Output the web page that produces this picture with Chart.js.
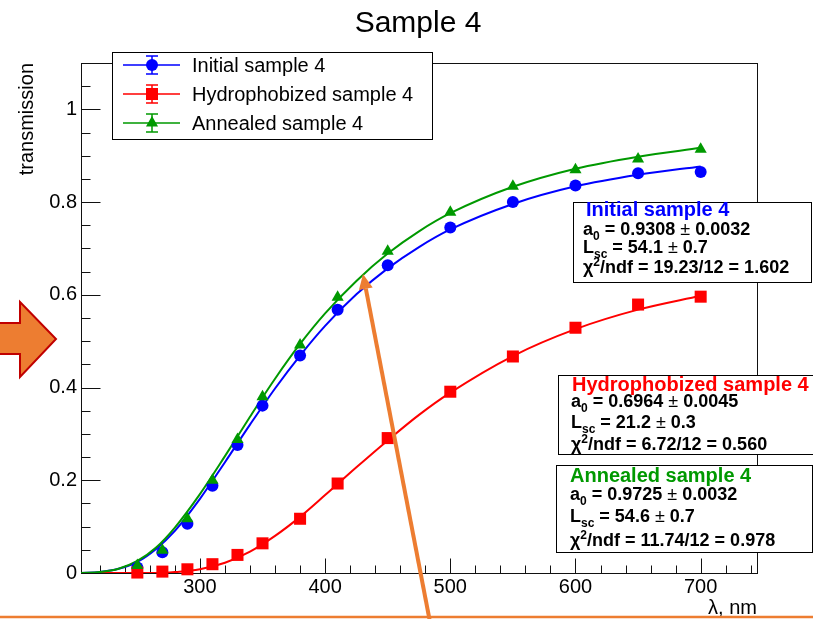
<!DOCTYPE html>
<html>
<head>
<meta charset="utf-8">
<title>Sample 4</title>
<script src="https://cdn.jsdelivr.net/npm/chart.js@4.4.1/dist/chart.umd.min.js"></script>
<style>
  html, body { margin: 0; padding: 0; background: #fff; }
  canvas { display: block; }
</style>
</head>
<body>
<canvas id="sampleChart" width="813" height="619"></canvas>
<script>
// measured transmission, wavelength in nm
const wavelengths = [250, 270, 290, 310, 330, 350, 380, 410, 450, 500, 550, 600, 650, 700];
const initialT = [0.012, 0.045, 0.106, 0.188, 0.276, 0.361, 0.469, 0.568, 0.664, 0.745, 0.800, 0.836, 0.862, 0.865];
const hydrophobizedT = [0.001, 0.003, 0.008, 0.019, 0.039, 0.064, 0.117, 0.193, 0.291, 0.391, 0.467, 0.529, 0.579, 0.596];
const annealedT = [0.016, 0.049, 0.117, 0.200, 0.288, 0.380, 0.492, 0.595, 0.694, 0.778, 0.834, 0.870, 0.893, 0.914];

// fit curves, sampled along the wavelength axis
const fitWavelengths = [205, 220, 235, 250, 265, 280, 300, 320, 340, 360, 380, 400, 425, 450, 475, 500, 550, 600, 650, 700];
const initialFit = [0.000, 0.002, 0.009, 0.024, 0.052, 0.091, 0.160, 0.239, 0.320, 0.398, 0.469, 0.533, 0.601, 0.657, 0.703, 0.741, 0.796, 0.834, 0.859, 0.877];
const hydrophobizedFit = [0.000, 0.000, 0.000, 0.000, 0.000, 0.002, 0.008, 0.022, 0.046, 0.080, 0.121, 0.168, 0.228, 0.286, 0.341, 0.389, 0.468, 0.526, 0.568, 0.598];
const annealedFit = [0.000, 0.002, 0.009, 0.026, 0.055, 0.098, 0.170, 0.252, 0.337, 0.419, 0.494, 0.560, 0.630, 0.689, 0.737, 0.776, 0.833, 0.872, 0.898, 0.917];

const seriesNames = ['Initial sample 4', 'Hydrophobized sample 4', 'Annealed sample 4'];
const seriesColors = ['#0000ff', '#ff0000', '#009900'];
const seriesMarkers = ['circle', 'rect', 'triangle'];
const markerSizes = [6, 8.5, 7];

// fit parameters for the stat boxes
const fitA0 = ['0.9308', '0.6964', '0.9725'];
const fitA0Err = ['0.0032', '0.0045', '0.0032'];
const fitLsc = ['54.1', '21.2', '54.6'];
const fitLscErr = ['0.7', '0.3', '0.7'];
const fitChi2 = ['19.23', '6.72', '11.74'];
const fitNdf = ['12', '12', '12'];
const fitChi2Ndf = ['1.602', '0.560', '0.978'];

const xMajorTicks = [300, 400, 500, 600, 700];
const yMajorTicks = [0, 0.2, 0.4, 0.6, 0.8, 1];
const yTickLabels = ['0', '0.2', '0.4', '0.6', '0.8', '1'];

const FAMILY = "'Liberation Sans', Arial, Helvetica, sans-serif";
Chart.defaults.font.family = FAMILY;
Chart.defaults.color = '#000';

const toXY = (xs, ys) => xs.map((x, i) => ({ x: x, y: ys[i] }));

// later series sit on top, as in the original ROOT drawing order
function pointSet(i, ys) {
    return {
        label: seriesNames[i],
        data: toXY(wavelengths, ys),
        showLine: false,
        pointStyle: seriesMarkers[i],
        pointRadius: markerSizes[i],
        pointHoverRadius: markerSizes[i],
        backgroundColor: seriesColors[i],
        borderColor: seriesColors[i],
        borderWidth: 0,
        clip: false,
        order: 2 - i
    };
}

function fitSet(i, ys) {
    return {
        label: seriesNames[i] + ' fit',
        data: toXY(fitWavelengths, ys),
        showLine: true,
        borderColor: seriesColors[i],
        borderWidth: 2,
        pointRadius: 0,
        fill: false,
        cubicInterpolationMode: 'monotone',
        order: 5 - i
    };
}

// frame with ROOT-style inward ticks
const frameTicks = {
    id: 'frameTicks',
    beforeDatasetsDraw(chart) {
        const { ctx, chartArea: a, scales: { x, y } } = chart;
        const L = Math.round(a.left) + 0.5, R = Math.round(a.right) + 0.5;
        const T = Math.round(a.top) + 0.5, B = Math.round(a.bottom) + 0.5;
        ctx.save();
        ctx.strokeStyle = '#111';
        ctx.lineWidth = 1;
        ctx.strokeRect(L, T, R - L, B - T);
        ctx.beginPath();
        for (let v = 220; v <= 740; v += 20) {
            const px = Math.round(x.getPixelForValue(v)) + 0.5;
            const len = xMajorTicks.includes(v) ? 15 : 8;
            ctx.moveTo(px, B);
            ctx.lineTo(px, B - len);
        }
        for (let k = 0; k <= 22; k++) {
            const v = k * 0.05;
            const py = Math.round(y.getPixelForValue(v)) + 0.5;
            const len = k % 4 === 0 ? 19 : 9;
            ctx.moveTo(L, py);
            ctx.lineTo(L + len, py);
        }
        ctx.stroke();
        ctx.restore();
    }
};

function drawRich(ctx, x, y, parts) {
    for (const [text, kind] of parts) {
        let size = 18, weight = 'bold', dy = 0;
        if (kind === 'sub') { size = 12; dy = 5; }
        if (kind === 'sup') { size = 12; dy = -7; }
        if (kind === 'pm') { weight = 'normal'; }
        ctx.font = weight + ' ' + size + 'px ' + FAMILY;
        ctx.fillText(text, x, y + dy);
        x += ctx.measureText(text).width;
    }
}

const statBoxes = [
    { left: 573, top: 202, right: 811, bottom: 282, tx: 586, lx: 583, base: [216, 235, 253, 273] },
    { left: 558, top: 375, right: 840, bottom: 454, tx: 572, lx: 571, base: [391, 407, 428, 450] },
    { left: 556, top: 465, right: 812, bottom: 552, tx: 570, lx: 570, base: [482, 500, 522, 546] }
];

const decorations = {
    id: 'decorations',
    beforeDraw(chart) {
        const ctx = chart.ctx;
        ctx.save();
        ctx.fillStyle = '#fff';
        ctx.fillRect(0, 0, chart.width, chart.height);
        ctx.restore();
    },
    afterDraw(chart) {
        const ctx = chart.ctx;
        const a = chart.chartArea;
        ctx.save();
        ctx.fillStyle = '#000';
        ctx.textBaseline = 'alphabetic';

        // title
        ctx.font = '30px ' + FAMILY;
        ctx.textAlign = 'center';
        ctx.fillText('Sample 4', 418, 32);

        // axis titles
        ctx.font = '20px ' + FAMILY;
        ctx.textAlign = 'right';
        ctx.fillText('\u03bb, nm', a.right, 614);
        ctx.save();
        ctx.translate(33, a.top);
        ctx.rotate(-Math.PI / 2);
        ctx.fillText('transmission', 0, 0);
        ctx.restore();

        // legend
        ctx.fillStyle = '#fff';
        ctx.fillRect(112, 52, 320, 87);
        ctx.strokeStyle = '#000';
        ctx.lineWidth = 1;
        ctx.strokeRect(112.5, 52.5, 320, 87);
        seriesNames.forEach((name, i) => {
            const cy = 65 + i * 29;
            ctx.strokeStyle = seriesColors[i];
            ctx.lineWidth = 1.5;
            ctx.beginPath();
            ctx.moveTo(123, cy);
            ctx.lineTo(180, cy);
            ctx.moveTo(152, cy - 9);
            ctx.lineTo(152, cy + 9);
            ctx.moveTo(146, cy - 9);
            ctx.lineTo(158, cy - 9);
            ctx.moveTo(146, cy + 9);
            ctx.lineTo(158, cy + 9);
            ctx.stroke();
            ctx.fillStyle = seriesColors[i];
            Chart.helpers.drawPoint(ctx, { pointStyle: seriesMarkers[i], radius: markerSizes[i], borderWidth: 0, rotation: 0 }, 152, cy);
            ctx.fillStyle = '#000';
            ctx.font = '20px ' + FAMILY;
            ctx.textAlign = 'left';
            ctx.textBaseline = 'middle';
            ctx.fillText(name, 192, cy + 1);
            ctx.textBaseline = 'alphabetic';
        });

        // fit stat boxes
        statBoxes.forEach((b, i) => {
            ctx.fillStyle = '#fff';
            ctx.fillRect(b.left, b.top, b.right - b.left, b.bottom - b.top);
            ctx.strokeStyle = '#000';
            ctx.lineWidth = 1;
            ctx.strokeRect(b.left + 0.5, b.top + 0.5, b.right - b.left, b.bottom - b.top);
            ctx.textAlign = 'left';
            ctx.fillStyle = seriesColors[i];
            ctx.font = 'bold 20px ' + FAMILY;
            ctx.fillText(seriesNames[i], b.tx, b.base[0]);
            ctx.fillStyle = '#000';
            drawRich(ctx, b.lx, b.base[1], [['a'], ['0', 'sub'], [' = ' + fitA0[i] + ' '], ['\u00b1 ', 'pm'], [fitA0Err[i]]]);
            drawRich(ctx, b.lx, b.base[2], [['L'], ['sc', 'sub'], [' = ' + fitLsc[i] + ' '], ['\u00b1 ', 'pm'], [fitLscErr[i]]]);
            drawRich(ctx, b.lx, b.base[3], [['\u03c7'], ['2', 'sup'], ['/ndf = ' + fitChi2[i] + '/' + fitNdf[i] + ' = ' + fitChi2Ndf[i]]]);
        });

        // orange call-outs
        const orange = '#ed7d31';
        ctx.beginPath();
        ctx.moveTo(-2, 323);
        ctx.lineTo(20, 323);
        ctx.lineTo(20, 302);
        ctx.lineTo(56, 339);
        ctx.lineTo(20, 377);
        ctx.lineTo(20, 354);
        ctx.lineTo(-2, 354);
        ctx.closePath();
        ctx.fillStyle = orange;
        ctx.fill();
        ctx.strokeStyle = '#c00000';
        ctx.lineWidth = 2;
        ctx.stroke();

        ctx.strokeStyle = orange;
        ctx.lineWidth = 2.5;
        ctx.beginPath();
        ctx.moveTo(0, 617);
        ctx.lineTo(chart.width, 617);
        ctx.stroke();

        const x0 = 430, y0 = 622, x1 = 363, y1 = 274;
        const len = Math.hypot(x1 - x0, y1 - y0);
        const ux = (x1 - x0) / len, uy = (y1 - y0) / len;
        const hx = x1 - ux * 15, hy = y1 - uy * 15;
        ctx.lineWidth = 4;
        ctx.beginPath();
        ctx.moveTo(x0, y0);
        ctx.lineTo(hx, hy);
        ctx.stroke();
        ctx.fillStyle = orange;
        ctx.beginPath();
        ctx.moveTo(x1, y1);
        ctx.lineTo(hx - uy * 7, hy + ux * 7);
        ctx.lineTo(hx + uy * 7, hy - ux * 7);
        ctx.closePath();
        ctx.fill();
        ctx.restore();
    }
};

new Chart(document.getElementById('sampleChart'), {
    type: 'scatter',
    data: {
        datasets: [
            pointSet(0, initialT),
            pointSet(1, hydrophobizedT),
            pointSet(2, annealedT),
            fitSet(0, initialFit),
            fitSet(1, hydrophobizedFit),
            fitSet(2, annealedFit)
        ]
    },
    options: {
        responsive: false,
        animation: false,
        devicePixelRatio: 1,
        events: [],
        layout: { padding: { top: 63, right: 56, bottom: 0, left: 0 } },
        plugins: {
            legend: { display: false },
            tooltip: { enabled: false },
            title: { display: false }
        },
        scales: {
            x: {
                type: 'linear',
                min: 205,
                max: 745,
                afterFit: scale => { scale.height = 46; },
                afterBuildTicks: scale => { scale.ticks = xMajorTicks.map(v => ({ value: v })); },
                ticks: {
                    font: { size: 20 },
                    color: '#000',
                    padding: 2,
                    maxRotation: 0,
                    autoSkip: false,
                    callback: v => String(v)
                },
                grid: { display: false, drawTicks: false },
                border: { display: false }
            },
            y: {
                type: 'linear',
                min: 0,
                max: 1.1,
                afterFit: scale => { scale.width = 81; },
                afterBuildTicks: scale => { scale.ticks = yMajorTicks.map(v => ({ value: v })); },
                ticks: {
                    font: { size: 20 },
                    color: '#000',
                    padding: 4,
                    autoSkip: false,
                    callback: (v, i) => yTickLabels[i]
                },
                grid: { display: false, drawTicks: false },
                border: { display: false }
            }
        }
    },
    plugins: [frameTicks, decorations]
});
</script>
</body>
</html>
